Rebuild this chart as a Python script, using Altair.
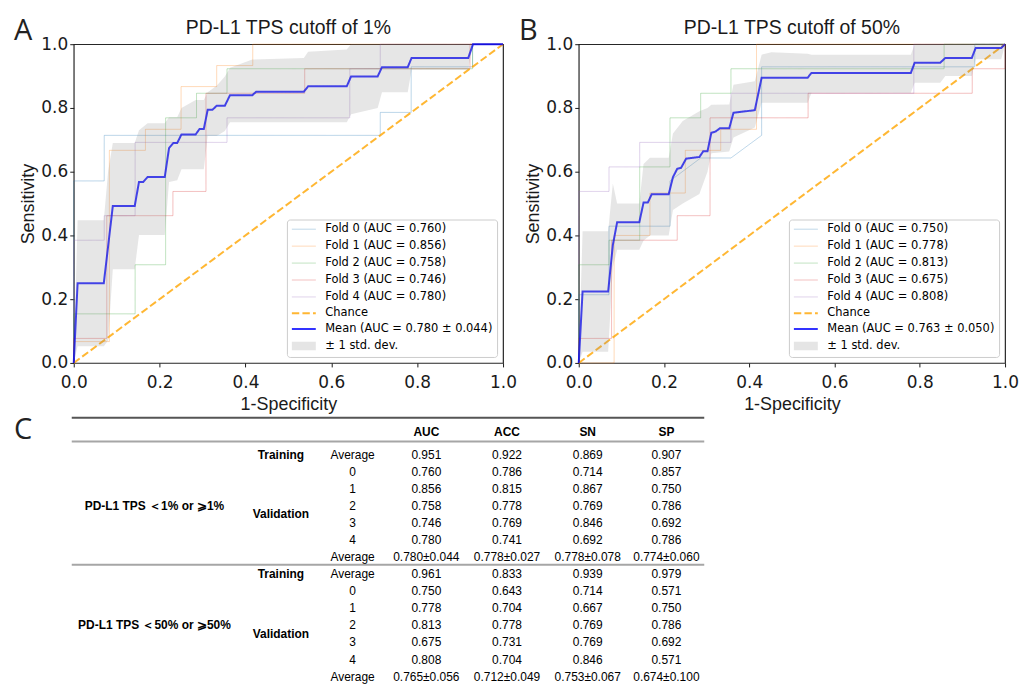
import altair as alt
import pandas as pd

FOLD_COLORS = ["#1f77b4", "#ff7f0e", "#2ca02c", "#d62728", "#9467bd"]
CHANCE_COLOR = "#ffa500"
MEAN_COLOR = "#0000ff"
BAND_COLOR = "#808080"

# ---------------- Panel A: PD-L1 TPS cutoff of 1% ----------------
a_letter = "A"
a_title = "PD-L1 TPS cutoff of 1%"
a_fold_auc = ["0.760", "0.856", "0.758", "0.746", "0.780"]
a_mean_label = "Mean (AUC = 0.780 ± 0.044)"
a_fold_fpr = [
    [0, 0, 0.071, 0.071, 0.714, 0.714, 0.786, 0.786, 0.929, 0.929, 1.0],
    [0, 0, 0.083, 0.083, 0.167, 0.167, 0.25, 0.25, 0.333, 0.333, 0.417, 0.417, 1.0],
    [0, 0, 0.143, 0.143, 0.214, 0.214, 0.286, 0.286, 0.357, 0.357, 0.929, 0.929, 1.0],
    [0, 0, 0.077, 0.077, 0.231, 0.231, 0.308, 0.308, 0.538, 0.538, 0.923, 0.923, 1.0],
    [0, 0, 0.071, 0.071, 0.143, 0.143, 0.357, 0.357, 0.643, 0.643, 0.714, 0.714, 1.0],
]
a_fold_tpr = [
    [0, 0.571, 0.571, 0.714, 0.714, 0.786, 0.786, 0.929, 0.929, 1.0, 1.0],
    [0, 0.067, 0.067, 0.667, 0.667, 0.733, 0.733, 0.867, 0.867, 0.933, 0.933, 1.0, 1.0],
    [0, 0.154, 0.154, 0.308, 0.308, 0.769, 0.769, 0.846, 0.846, 0.923, 0.923, 1.0, 1.0],
    [0, 0.077, 0.077, 0.462, 0.462, 0.538, 0.538, 0.846, 0.846, 0.923, 0.923, 1.0, 1.0],
    [0, 0.385, 0.385, 0.462, 0.462, 0.692, 0.692, 0.769, 0.769, 0.923, 0.923, 1.0, 1.0],
]
a_mean_fpr = [0, 0.009, 0.070, 0.091, 0.142, 0.152, 0.162, 0.172, 0.212, 0.222,
              0.232, 0.241, 0.251, 0.284, 0.293, 0.303, 0.312, 0.323, 0.333, 0.352,
              0.364, 0.416, 0.425, 0.536, 0.546, 0.636, 0.646, 0.708, 0.718, 0.778,
              0.787, 0.919, 0.930, 1.0]
a_mean_tpr = [0, 0.25, 0.25, 0.492, 0.492, 0.568, 0.568, 0.583, 0.583, 0.674,
              0.690, 0.690, 0.717, 0.717, 0.734, 0.734, 0.794, 0.794, 0.807, 0.807,
              0.840, 0.840, 0.851, 0.851, 0.868, 0.868, 0.899, 0.899, 0.928, 0.928,
              0.957, 0.957, 1.0, 1.0]
a_band_fpr = [0, 0.009, 0.070, 0.080, 0.091, 0.142, 0.152, 0.172, 0.212, 0.222,
              0.241, 0.251, 0.284, 0.303, 0.312, 0.333, 0.352, 0.364, 0.416, 0.536,
              0.546, 0.636, 0.646, 0.708, 0.718, 0.778, 0.787, 0.919, 0.930, 1.0]
a_band_lo = [0, 0.052, 0.052, 0.070, 0.294, 0.294, 0.401, 0.401, 0.401, 0.568,
             0.573, 0.608, 0.608, 0.608, 0.712, 0.712, 0.728, 0.755, 0.755, 0.755,
             0.755, 0.755, 0.780, 0.800, 0.849, 0.849, 0.920, 0.920, 1.0, 1.0]
a_band_hi = [0, 0.448, 0.448, 0.600, 0.690, 0.690, 0.730, 0.752, 0.752, 0.771,
             0.771, 0.800, 0.825, 0.825, 0.849, 0.870, 0.899, 0.926, 0.952, 0.957,
             0.976, 0.983, 1.0, 1.0, 1.0, 1.0, 1.0, 1.0, 1.0, 1.0]

# ---------------- Panel B: PD-L1 TPS cutoff of 50% ----------------
b_letter = "B"
b_title = "PD-L1 TPS cutoff of 50%"
b_fold_auc = ["0.750", "0.778", "0.813", "0.675", "0.808"]
b_mean_label = "Mean (AUC = 0.763 ± 0.050)"
b_fold_fpr = [
    [0, 0, 0.071, 0.071, 0.214, 0.214, 0.286, 0.357, 0.429, 0.429, 0.929, 0.929, 1.0],
    [0, 0.083, 0.083, 0.167, 0.167, 0.25, 0.25, 0.333, 0.333, 0.417, 0.417, 1.0],
    [0, 0, 0.071, 0.071, 0.143, 0.143, 0.214, 0.214, 0.286, 0.286, 0.357, 0.357, 0.857, 0.857, 1.0],
    [0, 0, 0.077, 0.077, 0.231, 0.231, 0.308, 0.308, 0.538, 0.538, 0.923, 0.923, 1.0, 1.0],
    [0, 0, 0.071, 0.071, 0.143, 0.143, 0.357, 0.357, 0.786, 0.786, 1.0],
]
b_fold_tpr = [
    [0, 0.214, 0.214, 0.429, 0.429, 0.571, 0.643, 0.643, 0.714, 0.929, 0.929, 1.0, 1.0],
    [0, 0, 0.4, 0.4, 0.533, 0.533, 0.667, 0.667, 0.733, 0.733, 1.0, 1.0],
    [0, 0.308, 0.308, 0.385, 0.385, 0.615, 0.615, 0.769, 0.769, 0.846, 0.846, 0.923, 0.923, 1.0, 1.0],
    [0, 0.077, 0.077, 0.385, 0.385, 0.462, 0.462, 0.769, 0.769, 0.846, 0.846, 0.923, 0.923, 1.0],
    [0, 0.538, 0.538, 0.615, 0.615, 0.692, 0.692, 0.846, 0.846, 1.0, 1.0],
]
b_mean_fpr = [0, 0.009, 0.069, 0.080, 0.090, 0.142, 0.152, 0.162, 0.171, 0.211,
              0.221, 0.231, 0.240, 0.252, 0.283, 0.292, 0.302, 0.311, 0.321, 0.331,
              0.353, 0.363, 0.413, 0.429, 0.537, 0.546, 0.779, 0.788, 0.848, 0.860,
              0.922, 0.931, 0.991, 1.0]
b_mean_tpr = [0, 0.224, 0.224, 0.370, 0.441, 0.441, 0.503, 0.503, 0.529, 0.529,
              0.583, 0.609, 0.612, 0.641, 0.646, 0.664, 0.664, 0.722, 0.726, 0.736,
              0.736, 0.785, 0.793, 0.895, 0.895, 0.910, 0.910, 0.942, 0.942, 0.957,
              0.957, 0.988, 0.988, 1.0]
b_band_fpr = [0, 0.009, 0.069, 0.080, 0.090, 0.142, 0.152, 0.167, 0.211, 0.221,
              0.244, 0.283, 0.302, 0.311, 0.353, 0.363, 0.413, 0.429, 0.452, 0.537,
              0.546, 0.779, 0.788, 0.848, 0.860, 0.922, 0.931, 0.991, 1.0]
b_band_lo = [0, 0.035, 0.035, 0.300, 0.355, 0.355, 0.384, 0.400, 0.400, 0.480,
             0.500, 0.530, 0.600, 0.658, 0.663, 0.707, 0.739, 0.816, 0.816, 0.816,
             0.848, 0.848, 0.879, 0.879, 0.900, 0.900, 0.953, 0.953, 1.0]
b_band_hi = [0, 0.413, 0.413, 0.563, 0.500, 0.500, 0.624, 0.644, 0.644, 0.720,
             0.759, 0.790, 0.800, 0.810, 0.811, 0.873, 0.884, 0.967, 0.975, 0.970,
             0.967, 0.967, 1.0, 1.0, 1.0, 1.0, 1.0, 1.0, 1.0]

chance_fpr = [0, 1]
chance_tpr = [0, 1]
axis_ticks = [0, 0.2, 0.4, 0.6, 0.8, 1.0]

# ---------------- Table C ----------------
c_letter = "C"
table_metrics = ["AUC", "ACC", "SN", "SP"]
table_groups = ["PD-L1 TPS ＜1% or ⩾1%", "PD-L1 TPS ＜50% or ⩾50%"]
t1_train = ["0.951", "0.922", "0.869", "0.907"]
t1_folds = [
    ["0.760", "0.786", "0.714", "0.857"],
    ["0.856", "0.815", "0.867", "0.750"],
    ["0.758", "0.778", "0.769", "0.786"],
    ["0.746", "0.769", "0.846", "0.692"],
    ["0.780", "0.741", "0.692", "0.786"],
]
t1_avg = ["0.780±0.044", "0.778±0.027", "0.778±0.078", "0.774±0.060"]
t2_train = ["0.961", "0.833", "0.939", "0.979"]
t2_folds = [
    ["0.750", "0.643", "0.714", "0.571"],
    ["0.778", "0.704", "0.667", "0.750"],
    ["0.813", "0.778", "0.769", "0.786"],
    ["0.675", "0.731", "0.769", "0.692"],
    ["0.808", "0.704", "0.846", "0.571"],
]
t2_avg = ["0.765±0.056", "0.712±0.049", "0.753±0.067", "0.674±0.100"]

TICK_FONT = "DejaVu Sans"
TITLE_FONT = "Liberation Sans"
TABLE_FONT = "Liberation Sans"
INK = "#1a1a1a"

# legend symbol shapes (unit coordinates of a Vega symbol)
LINE_SYMBOL = "M-1,0H3.8"
PATCH_SYMBOL = ("M-1,-0.7H3.8M-1,-0.5H3.8M-1,-0.3H3.8M-1,-0.1H3.8"
                "M-1,0.1H3.8M-1,0.3H3.8M-1,0.5H3.8M-1,0.7H3.8")


def roc_panel(letter, title, fold_fpr, fold_tpr, fold_auc, mean_label,
              mean_fpr, mean_tpr, band_fpr, band_lo, band_hi, width):
    labels = [f"Fold {k} (AUC = {a})" for k, a in enumerate(fold_auc)]
    labels += ["Chance", mean_label, "± 1 std. dev."]
    colors = FOLD_COLORS + [CHANCE_COLOR, MEAN_COLOR, BAND_COLOR]
    opac = [0.3] * 5 + [0.8, 0.8, 0.2]
    dashes = [[1, 0]] * 5 + [[7.4, 3.2], [1, 0], [1, 0]]
    widths = [1] * 5 + [2, 2, 1.3]
    shapes = [LINE_SYMBOL] * 7 + [PATCH_SYMBOL]

    fold_rows = []
    for k, (xs, ys) in enumerate(zip(fold_fpr, fold_tpr)):
        for i, (x, y) in enumerate(zip(xs, ys)):
            fold_rows.append({"fpr": x, "tpr": y, "label": labels[k], "i": i})
    folds_df = pd.DataFrame(fold_rows)
    chance_df = pd.DataFrame({"fpr": chance_fpr, "tpr": chance_tpr,
                              "label": "Chance", "i": [0, 1]})
    mean_df = pd.DataFrame({"fpr": mean_fpr, "tpr": mean_tpr, "label": mean_label,
                            "i": list(range(len(mean_fpr)))})
    band_df = pd.DataFrame({"fpr": band_fpr, "lo": band_lo, "hi": band_hi})

    legend = alt.Legend(
        title=None, orient="bottom-right", offset=6, padding=4,
        fillColor="rgba(255,255,255,0.8)", strokeColor="#cccccc", cornerRadius=3,
        symbolSize=100, labelFont=TICK_FONT,
        labelFontSize=11.5, labelColor="#000000", labelLimit=300,
        labelOffset=22.5, rowPadding=4.0,
    )
    axis_common = dict(values=axis_ticks, format=".1f", grid=False, domain=False,
                       tickSize=4, tickColor=INK, labelFont=TICK_FONT,
                       labelFontSize=17, labelColor=INK, labelFlush=False,
                       labelOverlap=False, titleFont=TITLE_FONT, titleFontSize=18,
                       titleFontWeight="normal", titleColor=INK)
    x_axis = alt.Axis(title="1-Specificity", labelPadding=7.5, titlePadding=5.5, **axis_common)
    y_axis = alt.Axis(title="Sensitivity", labelPadding=2, titlePadding=3, **axis_common)
    x = alt.X("fpr:Q", scale=alt.Scale(domain=[0, 1], nice=False), axis=x_axis)
    y = alt.Y("tpr:Q", scale=alt.Scale(domain=[0, 1], nice=False), axis=y_axis)
    enc = dict(
        x=x, y=y,
        color=alt.Color("label:N", scale=alt.Scale(domain=labels, range=colors),
                        legend=legend),
        opacity=alt.Opacity("label:N", scale=alt.Scale(type="ordinal", domain=labels,
                                                       range=opac), legend=legend),
        strokeDash=alt.StrokeDash("label:N", scale=alt.Scale(domain=labels,
                                                             range=dashes), legend=legend),
        strokeWidth=alt.StrokeWidth("label:N", scale=alt.Scale(type="ordinal",
                                                               domain=labels, range=widths),
                                    legend=legend),
        order=alt.Order("i:Q"),
    )
    folds = alt.Chart(folds_df).mark_line().encode(**enc)
    chance = alt.Chart(chance_df).mark_line().encode(**enc)
    mean = alt.Chart(mean_df).mark_line().encode(**enc)
    band = alt.Chart(band_df).mark_area(color=BAND_COLOR, opacity=0.2).encode(
        x="fpr:Q", y="lo:Q", y2="hi:Q")
    # carries only the legend's symbol shapes (no rows are drawn)
    shape_key = alt.Chart(mean_df).transform_filter("false").mark_point().encode(
        shape=alt.Shape("label:N", scale=alt.Scale(domain=labels, range=shapes),
                        legend=legend))
    tag = alt.Chart(pd.DataFrame({"t": [letter]})).mark_text(
        align="left", baseline="middle", font="Open Sans", fontSize=29, color="#222222"
    ).encode(x=alt.value(-60), y=alt.value(-13), text="t:N")
    head = alt.Chart(pd.DataFrame({"t": [title]})).mark_text(
        align="center", baseline="middle", font=TITLE_FONT, fontSize=19.5, color=INK
    ).encode(x=alt.value(width / 2), y=alt.value(-16), text="t:N")
    return alt.layer(folds, chance, mean, band, shape_key, tag, head).properties(
        width=width, height=320,
        view=alt.ViewBackground(stroke="#262626", strokeWidth=1.2),
    )


panel_a = roc_panel(a_letter, a_title, a_fold_fpr, a_fold_tpr, a_fold_auc, a_mean_label,
                    a_mean_fpr, a_mean_tpr, a_band_fpr, a_band_lo, a_band_hi, 431)
panel_b = roc_panel(b_letter, b_title, b_fold_fpr, b_fold_tpr, b_fold_auc, b_mean_label,
                    b_mean_fpr, b_mean_tpr, b_band_fpr, b_band_lo, b_band_hi, 428)

top = alt.hconcat(panel_a, panel_b, spacing=0).resolve_scale(
    color="independent", opacity="independent", shape="independent",
    strokeDash="independent", strokeWidth="independent")

# ---------------- table cells ----------------
cells = []
for j, m in enumerate(table_metrics):
    cells.append({"r": 0, "c": 3 + j, "t": m, "kind": "head"})
for s, (grp, tr, fl, av) in enumerate([(table_groups[0], t1_train, t1_folds, t1_avg),
                                       (table_groups[1], t2_train, t2_folds, t2_avg)]):
    r0 = 1 + 7 * s
    cells.append({"r": r0 + 3, "c": 0, "t": grp, "kind": "bold"})
    cells.append({"r": r0, "c": 1, "t": "Training", "kind": "bold"})
    cells.append({"r": r0 + 3.5, "c": 1, "t": "Validation", "kind": "bold"})
    cells.append({"r": r0, "c": 2, "t": "Average", "kind": "plain"})
    for j, v in enumerate(tr):
        cells.append({"r": r0, "c": 3 + j, "t": v, "kind": "plain"})
    for k, row in enumerate(fl):
        cells.append({"r": r0 + 1 + k, "c": 2, "t": str(k), "kind": "plain"})
        for j, v in enumerate(row):
            cells.append({"r": r0 + 1 + k, "c": 3 + j, "t": v, "kind": "plain"})
    cells.append({"r": r0 + 6, "c": 2, "t": "Average", "kind": "plain"})
    for j, v in enumerate(av):
        cells.append({"r": r0 + 6, "c": 3 + j, "t": v, "kind": "plain"})
cells_df = pd.DataFrame(cells)

table_rules_top = [-1.157]
table_rules_inner = [0.242, 7.443]

col_scale = alt.Scale(domain=[0, 1, 2, 3, 4, 5, 6], range=[81, 208, 280, 354, 435, 516, 595])
row_scale = alt.Scale(domain=[-1.157, 14.236], range=[0, 264])
tx = alt.X("c:Q", scale=col_scale, axis=None)
ty = alt.Y("r:Q", scale=row_scale, axis=None)

rule_top = alt.Chart(pd.DataFrame({"r": table_rules_top})).mark_rule(
    color="#555555", strokeWidth=2).encode(y=ty, x=alt.value(-2), x2=alt.value("width"))
rule_inner = alt.Chart(pd.DataFrame({"r": table_rules_inner})).mark_rule(
    color="#a6a6a6", strokeWidth=2).encode(y=ty, x=alt.value(-2), x2=alt.value("width"))
txt_plain = alt.Chart(cells_df).transform_filter("datum.kind == 'plain'").mark_text(
    font=TABLE_FONT, fontSize=12, color="#000000", baseline="middle"
).encode(x=tx, y=ty, text="t:N")
txt_bold = alt.Chart(cells_df).transform_filter("datum.kind == 'bold'").mark_text(
    font=TABLE_FONT, fontSize=12, fontWeight="bold", color="#000000", baseline="middle"
).encode(x=tx, y=ty, text="t:N")
txt_head = alt.Chart(cells_df).transform_filter("datum.kind == 'head'").mark_text(
    font=TABLE_FONT, fontSize=12, fontWeight="bold", color="#000000",
    baseline="middle", dy=-5
).encode(x=tx, y=ty, text="t:N")
c_tag = alt.Chart(pd.DataFrame({"t": [c_letter]})).mark_text(
    align="left", baseline="middle", font="Open Sans", fontSize=29, color="#222222"
).encode(x=alt.value(-60), y=alt.value(12), text="t:N")

table = alt.layer(rule_top, rule_inner, txt_plain, txt_bold, txt_head, c_tag).properties(
    width=633, height=264, view=alt.ViewBackground(stroke="transparent"))

chart = alt.vconcat(top, table, spacing=0).properties(
    padding={"left": 5, "top": 7, "right": 0, "bottom": 0},
    background="white",
).configure_view(stroke="transparent")

chart.save("out.html", embed_options={"renderer": "svg", "actions": False})
